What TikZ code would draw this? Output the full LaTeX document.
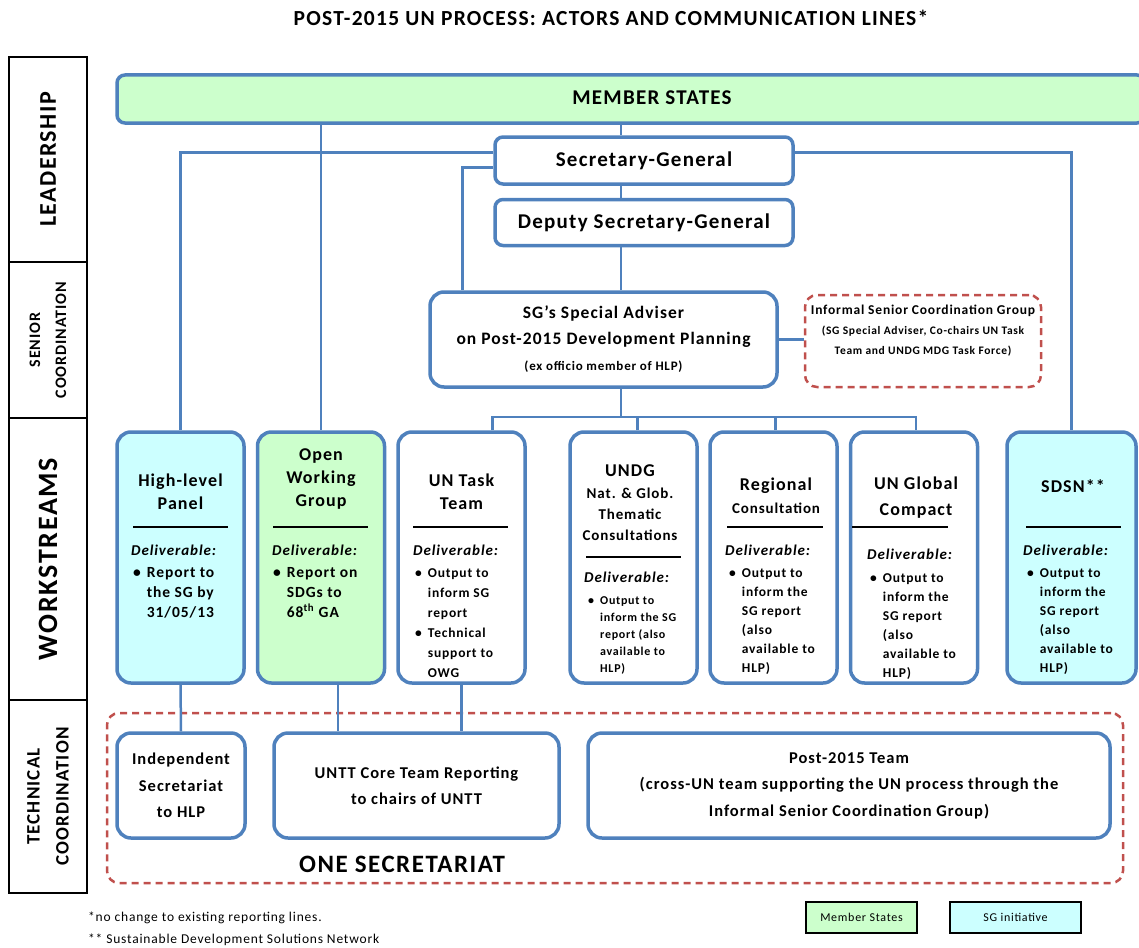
\documentclass[tikz,border=0pt]{standalone}
\usepackage{fontspec}
\setmainfont{Carlito}[LetterSpace=6]
\usetikzlibrary{positioning}
\definecolor{ublue}{RGB}{79,129,189}
\definecolor{msgreen}{RGB}{204,255,204}
\definecolor{sgcyan}{RGB}{204,255,255}
\definecolor{dred}{RGB}{192,80,77}
\newcommand{\dlist}[1]{\begin{tabular}[t]{@{}l@{\hspace{6pt}}l@{}}#1\end{tabular}}

\begin{document}
\begin{tikzpicture}[
        x=1pt, y=-1pt,
        hbox/.style={draw=ublue, line width=3.5pt, rounded corners=8pt, fill=white, inner sep=0pt, align=center},
        wsbox/.style={hbox, rounded corners=14pt, minimum width=127pt, minimum height=251pt},
        techbox/.style={hbox, rounded corners=14pt, minimum height=105pt, font=\fontsize{16.5}{26.5}\selectfont\bfseries},
        link/.style={ublue, line width=2.5pt},
        dashbox/.style={draw=dred, line width=2.5pt, dash pattern=on 7pt off 5pt, rounded corners=12pt, inner sep=0pt},
        band/.style={draw, line width=1.2pt, rotate=90, minimum height=78pt, inner sep=0pt, align=center},
        wstitle/.style={align=center, inner sep=0pt, font=\fontsize{18}{23}\selectfont\bfseries},
        deliv/.style={anchor=base west, inner sep=0pt, font=\fontsize{15}{18}\selectfont\bfseries\itshape},
        bul/.style={anchor=base west, inner sep=0pt, font=\fontsize{14.5}{20}\selectfont\bfseries},
        divline/.style={line width=1.2pt},
        legend/.style={draw, line width=2pt, minimum height=31pt, inner sep=0pt, font=\fontsize{12}{15}\selectfont},
    ]
    \useasboundingbox (0,0) rectangle (1139,947);
    \node[font=\fontsize{21.5}{24}\selectfont\bfseries] (title) at (611,18) {POST-2015 UN PROCESS: ACTORS AND COMMUNICATION LINES*};

    % side bands
    \node[band, minimum width=205pt, font=\fontsize{24}{28}\selectfont\bfseries] (lead) at (48,159.5) {LEADERSHIP};
    \node[band, minimum width=156pt, font=\fontsize{16}{26}\selectfont\bfseries] (senior) at (48,340) {SENIOR\\COORDINATION};
    \node[band, minimum width=282pt, font=\fontsize{28}{30}\selectfont\bfseries] (work) at (48,559) {WORKSTREAMS};
    \node[band, minimum width=193pt, font=\fontsize{19}{29}\selectfont\bfseries] (techc) at (48,796.5) {TECHNICAL\\COORDINATION};

    % leadership
    \node[hbox, fill=msgreen, minimum width=1028pt, minimum height=48pt] (ms) at (631,99) {};
    \node[font=\fontsize{21}{24}\selectfont\bfseries] (mst) at (652,98) {MEMBER STATES};
    \node[hbox, minimum width=298pt, minimum height=47pt, font=\fontsize{21}{24}\selectfont\bfseries] (sg) at (644,160.5) {Secretary-General};
    \node[hbox, minimum width=298pt, minimum height=46pt, font=\fontsize{21}{24}\selectfont\bfseries] (dsg) at (644,222.5) {Deputy Secretary-General};

    % senior coordination
    \node[hbox, rounded corners=14pt, minimum width=347pt, minimum height=95pt, font=\fontsize{17.5}{26}\selectfont\bfseries] (sa) at (603.5,339.5)
        {SG’s Special Adviser\\on Post-2015 Development Planning\\{\fontsize{13}{15}\selectfont (ex officio member of HLP)}};
    \node[dashbox, minimum width=236pt, minimum height=92pt] (iscg) at (923,341) {};
    \node[align=center, inner sep=0pt, font=\fontsize{11.5}{20}\selectfont\bfseries] (iscgt) at (923,331)
        {{\fontsize{13.5}{16}\selectfont Informal Senior Coordination Group}\\(SG Special Adviser, Co-chairs UN Task\\Team and UNDG MDG Task Force)};

    % workstreams
    \node[wsbox, fill=sgcyan] (hlp) at (180.5,557.5) {};
    \node[wstitle] (hlpt) at (180.5,491.5) {High-level\\Panel};
    \draw[divline] (133,527) -- (228,527);
    \node[deliv] (hlpd) at (131,555) {Deliverable:};
    \node[bul, font=\fontsize{15.5}{20}\selectfont\bfseries] (hlpb) at (133,577) {\dlist{\textbullet & Report to\\ & the SG by\\ & 31/05/13}};

    \node[wsbox, fill=msgreen] (owg) at (321,557.5) {};
    \node[wstitle] (owgt) at (321,479) {Open\\Working\\Group};
    \draw[divline] (273,527) -- (368,527);
    \node[deliv] (owgd) at (272,555) {Deliverable:};
    \node[bul, font=\fontsize{15.5}{20}\selectfont\bfseries] (owgb) at (273,577) {\dlist{\textbullet & Report on\\ & SDGs to\\ & 68\textsuperscript{th} GA}};

    \node[wsbox] (untt) at (461.5,557.5) {};
    \node[wstitle] (unttt) at (461.5,491.5) {UN Task\\Team};
    \draw[divline] (413,527) -- (508,527);
    \node[deliv] (unttd) at (413,555) {Deliverable:};
    \node[bul, font=\fontsize{13.5}{20}\selectfont\bfseries] (unttb) at (415,577)
        {\dlist{\textbullet & Output to\\ & inform SG\\ & report\\ \textbullet & Technical\\ & support to\\ & OWG}};

    \node[wsbox] (undg) at (633.5,557.5) {};
    \node[wstitle, font=\fontsize{15}{21}\selectfont\bfseries] (undgt) at (630,503)
        {{\fontsize{18}{21}\selectfont UNDG}\\[1pt]Nat. \& Glob.\\Thematic\\Consultations};
    \draw[divline] (586,557) -- (681,557);
    \node[deliv] (undgd) at (584,582) {Deliverable:};
    \node[bul, font=\fontsize{12}{17}\selectfont\bfseries] (undgb) at (588,604)
        {\dlist{\textbullet & Output to\\ & inform the SG\\ & report (also\\ & available to\\ & HLP)}};

    \node[wsbox] (reg) at (773.5,557.5) {};
    \node[wstitle, font=\fontsize{15}{23}\selectfont\bfseries] (regt) at (776,496) {{\fontsize{18}{21}\selectfont Regional}\\Consultation};
    \draw[divline] (727,527) -- (823,527);
    \node[deliv] (regd) at (725,555) {Deliverable:};
    \node[bul, font=\fontsize{13.5}{19}\selectfont\bfseries] (regb) at (729,577)
        {\dlist{\textbullet & Output to\\ & inform the\\ & SG report\\ & (also\\ & available to\\ & HLP)}};

    \node[wsbox] (gc) at (914,557.5) {};
    \node[wstitle, font=\fontsize{18}{26}\selectfont\bfseries] (gct) at (916,498) {UN Global\\Compact};
    \draw[divline] (852,527) -- (948,527);
    \node[deliv] (gcd) at (867,559) {Deliverable:};
    \node[bul, font=\fontsize{13.5}{19}\selectfont\bfseries] (gcb) at (870,582)
        {\dlist{\textbullet & Output to\\ & inform the\\ & SG report\\ & (also\\ & available to\\ & HLP)}};

    \node[wsbox, fill=sgcyan, minimum width=129pt] (sdsn) at (1071.5,557.5) {};
    \node[wstitle] (sdsnt) at (1073,486) {SDSN**};
    \draw[divline] (1026,527) -- (1121,527);
    \node[deliv] (sdsnd) at (1023,555) {Deliverable:};
    \node[bul, font=\fontsize{13.5}{19}\selectfont\bfseries] (sdsnb) at (1027,577)
        {\dlist{\textbullet & Output to\\ & inform the\\ & SG report\\ & (also\\ & available to\\ & HLP)}};

    % technical coordination
    \node[dashbox, minimum width=1016pt, minimum height=170pt] (onesec) at (615,798) {};
    \node[font=\fontsize{25}{28}\selectfont\bfseries] (onesect) at (402,864) {ONE SECRETARIAT};
    \node[techbox, minimum width=128pt] (indep) at (181,785.5) {Independent\\Secretariat\\to HLP};
    \node[techbox, minimum width=285pt] (core) at (416.5,785.5) {UNTT Core Team Reporting\\to chairs of UNTT};
    \node[techbox, minimum width=522pt] (post) at (849,785.5)
        {Post-2015 Team\\(cross-UN team supporting the UN process through the\\Informal Senior Coordination Group)};

    % lines
    \coordinate (spine) at (621,0);
    \coordinate (bus) at (621,417);
    \draw[link] (ms.south -| spine) -- (sg.north -| spine);
    \draw[link] (sg.south -| spine) -- (dsg.north -| spine);
    \draw[link] (dsg.south -| spine) -- (sa.north -| spine);
    \draw[link] (ms.south -| owg.north) -- (owg.north);
    \draw[link] ([yshift=8pt]sg.west) -| (hlp.north);
    \draw[link] ([yshift=8pt]sg.east) -| (sdsn.north);
    \draw[link] ([yshift=-7pt]sg.west) -| ([xshift=-141pt]sa.north);
    \draw[link] (sa.east) -- (sa.east -| iscg.west);
    \draw[link] (sa.south -| bus) -- (bus);
    \draw[link] ([xshift=31pt]untt.north) |- (bus) -| ([xshift=2pt]gc.north);
    \draw[link] ([xshift=4pt]undg.north) -- ([xshift=4pt]undg.north |- bus);
    \draw[link] ([xshift=2pt]reg.north) -- ([xshift=2pt]reg.north |- bus);
    \draw[link] (hlp.south) -- (indep.north);
    \draw[link] ([xshift=17pt]owg.south) -- ([xshift=17pt]owg.south |- core.north);
    \draw[link] (untt.south) -- (untt.south |- core.north);

    % legend
    \node[legend, fill=msgreen, minimum width=111pt] (legms) at (861.5,917.5) {Member States};
    \node[legend, fill=sgcyan, minimum width=131pt] (legsg) at (1015.5,917.5) {SG initiative};
    \node[anchor=west, inner sep=0pt, font=\fontsize{13.5}{14}\selectfont] (fn1) at (88,918) {*no change to existing reporting lines.};
    \node[anchor=west, inner sep=0pt, font=\fontsize{13.5}{14}\selectfont] (fn2) at (88,940) {** Sustainable Development Solutions Network};
\end{tikzpicture}
\end{document}
